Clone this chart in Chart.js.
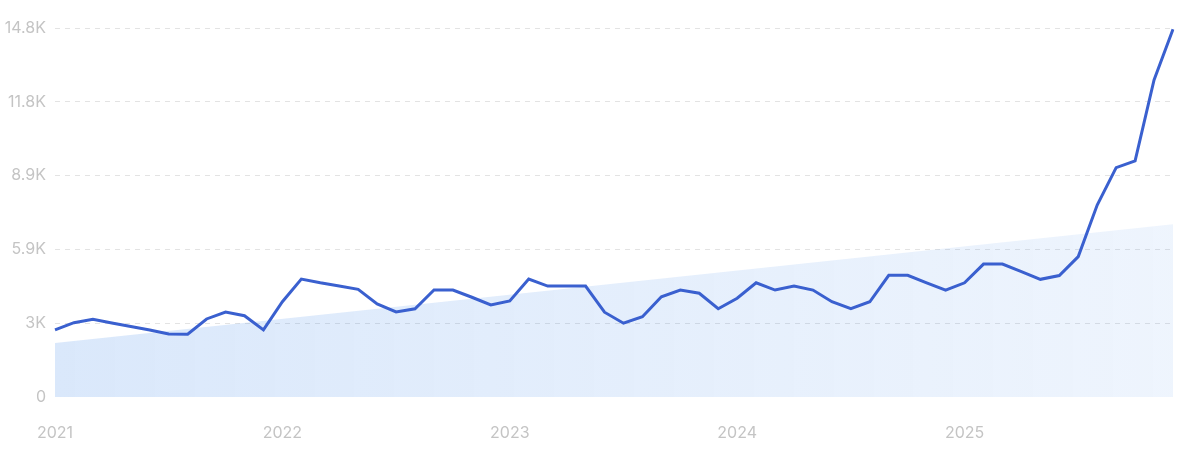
<!DOCTYPE html>
<html>
<head>
<meta charset="utf-8">
<script src="https://cdn.jsdelivr.net/npm/chart.js@4/dist/chart.umd.min.js"></script>
<style>
  html, body { margin: 0; padding: 0; background: #ffffff; }
  #wrap { width: 1200px; height: 451px; position: relative; }
</style>
</head>
<body>
<div id="wrap"><canvas id="c" width="1200" height="451"></canvas></div>
<script>
// Categories: monthly, Jan 2021 .. Dec 2025
const years = ["2021", "2022", "2023", "2024", "2025"];
const months = ["01","02","03","04","05","06","07","08","09","10","11","12"];
const categories = [];
years.forEach(y => months.forEach(m => categories.push(y + "-" + m)));

// Search volume series
const volume = [
  2690, 2980, 3120, 2970, 2830, 2690, 2530, 2520, 3130, 3410, 3260, 2690,
  3820, 4730, 4580, 4450, 4320, 3730, 3410, 3540, 4290, 4290, 4000, 3690,
  3850, 4730, 4450, 4450, 4450, 3400, 2960, 3220, 4020, 4290, 4160, 3540,
  3960, 4580, 4290, 4450, 4290, 3820, 3540, 3820, 4880, 4880, 4580, 4290,
  4580, 5330, 5330, 5030, 4720, 4870, 5630, 7700, 9200, 9470, 12720, 14750
];

// Trend area: start and end values (straight line between them)
const trendStart = 2170;
const trendEnd = 6930;
const trend = categories.map((c, i) => i === 0 ? trendStart : (i === categories.length - 1 ? trendEnd : null));

// Y tick values
const yTicks = [0, 2960, 5920, 8880, 11840, 14800];

function fmtK(v) {
  if (v === 0) return "0";
  const k = Math.round(v / 100) / 10;
  return (Number.isInteger(k) ? k.toFixed(0) : k.toFixed(1)) + "K";
}

const ctx = document.getElementById('c').getContext('2d');

const chart = new Chart(ctx, {
  type: 'line',
  data: {
    labels: categories,
    datasets: [
      {
        label: 'Volume',
        data: volume,
        borderColor: '#3a60cf',
        borderWidth: 3,
        pointRadius: 0,
        tension: 0,
        fill: false,
        order: 0
      },
      {
        label: 'Trend',
        data: trend,
        spanGaps: true,
        borderWidth: 0,
        borderColor: 'rgba(0,0,0,0)',
        pointRadius: 0,
        tension: 0,
        fill: 'origin',
        order: 1,
        backgroundColor: function(context) {
          const ch = context.chart;
          const area = ch.chartArea;
          if (!area) return 'rgba(70,140,235,0.15)';
          const g = ch.ctx.createLinearGradient(area.left, 0, area.right, 0);
          g.addColorStop(0, 'rgba(70,140,235,0.20)');
          g.addColorStop(1, 'rgba(70,140,235,0.09)');
          return g;
        }
      }
    ]
  },
  options: {
    responsive: false,
    animation: false,
    devicePixelRatio: 1,
    layout: { padding: { left: 0, right: 26, top: 28, bottom: 9 } },
    plugins: {
      legend: { display: false },
      tooltip: { enabled: false }
    },
    scales: {
      x: {
        type: 'category',
        offset: false,
        border: { display: false },
        grid: { display: false, drawTicks: false },
        afterFit: function(scale) { scale.height = 45; },
        ticks: {
          autoSkip: false,
          maxRotation: 0,
          padding: 27,
          color: '#c4c4c4',
          font: { family: 'Inter', size: 16 },
          callback: function(val, idx) {
            return idx % 12 === 0 ? years[idx / 12] : '';
          }
        }
      },
      y: {
        min: 0,
        max: 14800,
        border: { display: false, dash: [5, 5] },
        afterBuildTicks: function(scale) {
          scale.ticks = yTicks.map(v => ({ value: v }));
        },
        afterFit: function(scale) { scale.width = 55; },
        grid: {
          color: function(c) { return c.tick && c.tick.value === 0 ? 'rgba(0,0,0,0)' : '#e3e3e3'; },
          lineWidth: 1,
          drawTicks: false
        },
        ticks: {
          padding: 9,
          color: '#c4c4c4',
          font: { family: 'Inter', size: 16 },
          callback: function(v) { return fmtK(v); }
        }
      }
    }
  }
});
</script>
</body>
</html>
